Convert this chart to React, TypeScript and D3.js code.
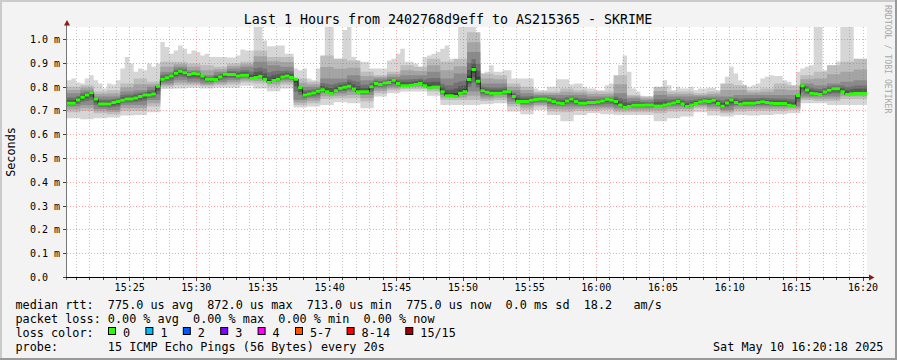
import React from 'react';
import * as d3 from 'd3';

// median rtt in ms, one value per 20 s step (15:20:18 .. 16:20:18)
const median = [
  0.732, 0.732, 0.746, 0.757, 0.767, 0.776, 0.750, 0.729, 0.729, 0.729, 0.735, 0.740, 0.745, 0.750, 0.750, 0.754, 0.760, 0.767,
  0.767, 0.771, 0.804, 0.833, 0.839, 0.847, 0.858, 0.867, 0.860, 0.853, 0.857, 0.855, 0.847, 0.833, 0.833, 0.832, 0.842, 0.854,
  0.853, 0.853, 0.847, 0.850, 0.850, 0.836, 0.840, 0.846, 0.833, 0.819, 0.828, 0.833, 0.842, 0.847, 0.840, 0.833, 0.797, 0.767,
  0.771, 0.775, 0.783, 0.789, 0.780, 0.774, 0.785, 0.795, 0.799, 0.804, 0.792, 0.780, 0.780, 0.780, 0.801, 0.815, 0.811, 0.817,
  0.819, 0.829, 0.815, 0.806, 0.806, 0.808, 0.811, 0.815, 0.806, 0.797, 0.800, 0.800, 0.780, 0.764, 0.764, 0.761, 0.774, 0.780,
  0.832, 0.874, 0.825, 0.785, 0.778, 0.774, 0.774, 0.774, 0.780, 0.780, 0.760, 0.740, 0.740, 0.740, 0.745, 0.748, 0.750, 0.750,
  0.746, 0.739, 0.733, 0.731, 0.742, 0.750, 0.739, 0.732, 0.732, 0.735, 0.735, 0.737, 0.742, 0.749, 0.746, 0.739, 0.725, 0.715,
  0.719, 0.724, 0.724, 0.724, 0.725, 0.725, 0.721, 0.721, 0.725, 0.729, 0.733, 0.739, 0.729, 0.718, 0.725, 0.731, 0.737, 0.742,
  0.740, 0.745, 0.731, 0.720, 0.733, 0.746, 0.735, 0.728, 0.732, 0.732, 0.732, 0.735, 0.738, 0.735, 0.732, 0.731, 0.731, 0.731,
  0.724, 0.721, 0.765, 0.806, 0.788, 0.774, 0.772, 0.769, 0.779, 0.787, 0.793, 0.793, 0.780, 0.769, 0.772, 0.774, 0.774, 0.774,
];

// slowest ping per 20 s step (top of the lightest smoke)
const smokeMax = [
  0.829, 0.836, 0.819, 0.815, 0.836, 0.850, 0.829, 0.815, 0.794, 0.815, 0.811, 0.829, 0.878, 0.926, 0.899, 0.864, 0.878, 0.871,
  0.899, 0.885, 0.899, 0.989, 0.968, 0.940, 0.954, 0.975, 0.961, 0.940, 0.954, 0.947, 0.933, 0.940, 0.926, 0.926, 0.926, 0.926,
  0.924, 0.924, 0.933, 0.958, 0.954, 0.954, 1.100, 1.100, 0.996, 0.972, 0.972, 0.975, 0.975, 0.940, 0.940, 0.878, 0.871, 0.878,
  0.836, 0.829, 0.878, 0.926, 1.100, 1.100, 0.919, 0.919, 1.040, 1.100, 0.926, 0.906, 0.906, 0.906, 0.878, 0.878, 0.878, 0.878,
  0.912, 0.919, 0.940, 0.961, 0.906, 0.906, 0.899, 0.885, 0.926, 0.933, 0.940, 0.947, 0.961, 0.975, 0.919, 0.912, 1.100, 1.100,
  1.100, 1.100, 0.892, 0.857, 0.864, 0.892, 0.864, 0.864, 0.871, 0.871, 0.836, 0.836, 0.836, 0.836, 0.836, 0.794, 0.787, 0.787,
  0.801, 0.801, 0.833, 0.833, 0.833, 0.811, 0.815, 0.815, 0.801, 0.794, 0.794, 0.787, 0.787, 0.808, 0.815, 0.836, 0.892, 0.933,
  0.864, 0.794, 0.781, 0.764, 0.760, 0.760, 0.760, 0.781, 0.829, 0.808, 0.787, 0.801, 0.794, 0.794, 0.801, 0.787, 0.794, 0.794,
  0.797, 0.797, 0.787, 0.767, 0.843, 0.885, 0.857, 0.829, 0.808, 0.801, 0.808, 0.815, 0.836, 0.843, 0.850, 0.847, 0.847, 0.829,
  0.822, 0.801, 0.864, 0.878, 0.885, 0.892, 1.100, 1.100, 0.871, 0.892, 0.892, 0.908, 1.100, 1.100, 1.100, 0.885, 0.906, 0.906,
];

// per minute smoke bands (ms)
const smokeMidHi = [
  0.801, 0.808, 0.781, 0.787, 0.815, 0.836, 0.822, 0.906, 0.906, 0.899, 0.892, 0.885,
  0.899, 0.906, 0.954, 0.926, 0.926, 0.836, 0.822, 0.933, 0.919, 0.912, 0.864, 0.850,
  0.864, 0.892, 0.885, 0.919, 0.906, 0.919, 1.030, 0.857, 0.850, 0.815, 0.801, 0.781,
  0.781, 0.794, 0.787, 0.781, 0.781, 0.850, 0.767, 0.760, 0.801, 0.781, 0.781, 0.774,
  0.781, 0.815, 0.808, 0.787, 0.794, 0.815, 0.808, 0.850, 0.864, 0.892, 0.906, 0.919,
];
const smokeInHi = [
  0.774, 0.787, 0.760, 0.760, 0.781, 0.787, 0.801, 0.864, 0.885, 0.871, 0.850, 0.864,
  0.878, 0.885, 0.906, 0.892, 0.885, 0.801, 0.801, 0.836, 0.836, 0.850, 0.829, 0.836,
  0.843, 0.850, 0.850, 0.864, 0.836, 0.857, 0.947, 0.815, 0.815, 0.787, 0.774, 0.767,
  0.767, 0.767, 0.767, 0.760, 0.760, 0.774, 0.753, 0.746, 0.767, 0.760, 0.760, 0.760,
  0.760, 0.760, 0.767, 0.767, 0.767, 0.767, 0.767, 0.815, 0.808, 0.815, 0.822, 0.829,
];
const smokeInLo = [
  0.718, 0.725, 0.708, 0.704, 0.725, 0.725, 0.746, 0.815, 0.829, 0.822, 0.815, 0.822,
  0.829, 0.836, 0.836, 0.822, 0.829, 0.746, 0.753, 0.774, 0.774, 0.781, 0.767, 0.794,
  0.801, 0.808, 0.808, 0.801, 0.767, 0.767, 0.781, 0.760, 0.767, 0.739, 0.725, 0.732,
  0.718, 0.718, 0.718, 0.718, 0.718, 0.711, 0.711, 0.711, 0.714, 0.718, 0.718, 0.725,
  0.718, 0.704, 0.718, 0.718, 0.718, 0.718, 0.718, 0.760, 0.760, 0.760, 0.774, 0.774,
];
const smokeMidLo = [
  0.694, 0.700, 0.690, 0.686, 0.700, 0.700, 0.718, 0.801, 0.808, 0.808, 0.804, 0.808,
  0.811, 0.819, 0.815, 0.801, 0.811, 0.725, 0.732, 0.750, 0.753, 0.753, 0.739, 0.774,
  0.787, 0.792, 0.792, 0.781, 0.746, 0.746, 0.746, 0.742, 0.746, 0.718, 0.704, 0.718,
  0.697, 0.694, 0.700, 0.700, 0.704, 0.694, 0.694, 0.694, 0.690, 0.697, 0.697, 0.711,
  0.700, 0.690, 0.697, 0.700, 0.700, 0.700, 0.704, 0.746, 0.742, 0.742, 0.750, 0.750,
];
const smokeMin = [
  0.669, 0.665, 0.669, 0.672, 0.681, 0.683, 0.694, 0.792, 0.794, 0.797, 0.794, 0.797,
  0.797, 0.806, 0.794, 0.783, 0.794, 0.714, 0.718, 0.725, 0.736, 0.732, 0.711, 0.760,
  0.774, 0.781, 0.781, 0.764, 0.725, 0.725, 0.725, 0.728, 0.732, 0.697, 0.686, 0.704,
  0.683, 0.656, 0.683, 0.690, 0.686, 0.683, 0.683, 0.683, 0.656, 0.669, 0.676, 0.694,
  0.681, 0.676, 0.683, 0.681, 0.683, 0.686, 0.690, 0.732, 0.732, 0.725, 0.725, 0.725,
];

const yTicks = [0, 0.1, 0.2, 0.3, 0.4, 0.5, 0.6, 0.7, 0.8, 0.9, 1.0];

const titleText = 'Last 1 Hours from 2402768d9eff to AS215365 - SKRIME';
const statLine = 'median rtt:  775.0 us avg  872.0 us max  713.0 us min  775.0 us now  0.0 ms sd  18.2   am/s';
const lossLine = 'packet loss: 0.00 % avg  0.00 % max  0.00 % min  0.00 % now';
const probeLine = 'probe:       15 ICMP Echo Pings (56 Bytes) every 20s';
const stampText = 'Sat May 10 16:20:18 2025';
const lossLabels = ['0', '1', '2', '3', '4', '5-7', '8-14', '15/15'];
const lossColors = ['#26ff00', '#00b8ff', '#0059ff', '#7e00ff', '#ff00ff', '#ff5500', '#ff0000', '#a10000'];
const smokeColors = ['#d6d6d6', '#bdbdbd', '#a4a4a4', '#8a8a8a', '#717171', '#585858', '#3e3e3e'];

const W = 897;
const H = 360;
const mono = '"DejaVu Sans Mono", monospace';
const CW = 7.1; // legend char advance

const start = new Date(2025, 4, 10, 15, 20, 18);
const end = new Date(2025, 4, 10, 16, 20, 18);

const Pre: React.FC<{ x: number; y: number; children: string }> = ({ x, y, children }) => (
  <text x={x} y={y} xmlSpace="preserve" style={{ whiteSpace: 'pre' }}
    fontFamily={mono} fontSize={11.8} fill="#000">{children}</text>
);

const App: React.FC = () => {
  const x = d3.scaleTime().domain([start, end]).range([67, 867]);
  const y = d3.scaleLinear().domain([0, 1.05]).range([277.5, 27.6]);
  const px = (v: number) => Math.round(v - 0.5) + 0.5;

  const n = median.length;
  const tAt = (i: number) => new Date(start.getTime() + i * 20000);
  const idx = d3.range(n + 1);
  const c = (i: number) => Math.min(i, n - 1);
  const k = (i: number) => Math.floor(c(i) / 3);

  const toward = (a: number, m: number, f: number) => m + (a - m) * f;
  const inLo = (i: number) => Math.min(smokeInLo[k(i)], median[c(i)]);
  const inHi = (i: number) => Math.max(smokeInHi[k(i)], median[c(i)]);
  const bands: [(i: number) => number, (i: number) => number][] = [
    [i => smokeMin[k(i)], i => smokeMax[c(i)]],
    [i => smokeMidLo[k(i)], i => smokeMidHi[k(i)]],
    [i => (smokeMidLo[k(i)] + smokeInLo[k(i)]) / 2, i => (smokeMidHi[k(i)] + smokeInHi[k(i)]) / 2],
    [i => smokeInLo[k(i)], i => smokeInHi[k(i)]],
    [i => toward(inLo(i), median[c(i)], 0.6), i => toward(inHi(i), median[c(i)], 0.6)],
    [i => toward(inLo(i), median[c(i)], 0.35), i => toward(inHi(i), median[c(i)], 0.35)],
    [i => toward(inLo(i), median[c(i)], 0.15), i => toward(inHi(i), median[c(i)], 0.15)],
  ];

  const areaGen = (lo: (i: number) => number, hi: (i: number) => number) =>
    d3.area<number>()
      .curve(d3.curveStepAfter)
      .x(i => x(tAt(i)))
      .y0(i => y(lo(i)))
      .y1(i => y(hi(i)))(idx) || '';

  const medLine = d3.line<number>()
    .curve(d3.curveStepAfter)
    .x(i => x(tAt(i)))
    .y(i => y(median[c(i)]))(idx) || '';

  const greenArea = d3.area<number>()
    .curve(d3.curveStepAfter)
    .x(i => x(tAt(i)))
    .y0(i => y(median[c(i)]) + 1.5)
    .y1(i => y(median[c(i)]) - 1.5)(idx) || '';

  const minutes = d3.timeMinute.range(start, end);
  const minorTicks = minutes.filter(d => d.getMinutes() % 5 !== 0);
  const majorTicks = minutes.filter(d => d.getMinutes() % 5 === 0);
  const fmt = d3.timeFormat('%H:%M');

  // loss colour swatches laid out like rrdtool legend items
  let cursor = 108;
  const swatches = lossLabels.map((label, i) => {
    const item = { label, color: lossColors[i], x: cursor };
    cursor += 15 + label.length * CW + 15.3;
    return item;
  });

  return (
    <svg width={W} height={H} style={{ display: 'block' }}>
      <style>{'body{margin:0}'}</style>
      <rect x={0} y={0} width={W} height={H} fill="#f3f3f3" />
      <rect x={0} y={0} width={W} height={2} fill="#cbcbcb" />
      <rect x={0} y={0} width={2} height={H} fill="#cbcbcb" />
      <rect x={0} y={H - 2} width={W} height={2} fill="#999999" />
      <rect x={W - 2} y={0} width={2} height={H} fill="#999999" />

      <text x={448} y={23.5} textAnchor="middle" fontFamily={mono} fontSize={13.3} fill="#000">
        {titleText}
      </text>

      <rect x={67} y={27} width={800} height={251} fill="#ffffff" />

      <defs>
        <clipPath id="plot">
          <rect x={67} y={27} width={800} height={251} />
        </clipPath>
      </defs>

      <g clipPath="url(#plot)">
        {bands.map(([lo, hi], j) => (
          <path key={j} d={areaGen(lo, hi)} fill={smokeColors[j]} />
        ))}
      </g>

      {minorTicks.map((d, i) => (
        <line key={'mn' + i} x1={px(x(d))} x2={px(x(d))} y1={27} y2={277}
          stroke="rgba(128,128,128,0.45)" strokeDasharray="1,2" />
      ))}
      {majorTicks.map((d, i) => (
        <line key={'mj' + i} x1={px(x(d))} x2={px(x(d))} y1={27} y2={277}
          stroke="rgba(255,80,80,0.5)" strokeDasharray="1,2" />
      ))}
      {yTicks.filter(v => v > 0).map((v, i) => (
        <line key={'hy' + i} x1={67} x2={867} y1={px(y(v))} y2={px(y(v))}
          stroke="rgba(255,80,80,0.5)" strokeDasharray="1,2" />
      ))}

      <g clipPath="url(#plot)">
        <path d={medLine} fill="none" stroke="#202020" strokeWidth={1} />
        <path d={greenArea} fill={lossColors[0]} />
      </g>

      {/* axes */}
      <line x1={66.5} x2={66.5} y1={280} y2={22} stroke="#777" />
      <line x1={63} x2={870} y1={277.5} y2={277.5} stroke="#000" />
      <polygon points="64,25.5 70,25.5 67,20" fill="#8f1a1a" />
      <polygon points="869,274.5 869,280.5 874.5,277.5" fill="#8f1a1a" />
      {minutes.map((d, i) => (
        <line key={'tk' + i} x1={px(x(d))} x2={px(x(d))} y1={278} y2={d.getMinutes() % 5 === 0 ? 281 : 280} stroke="#444" />
      ))}
      {yTicks.map((v, i) => (
        <line key={'yt' + i} x1={63} x2={66} y1={px(y(v))} y2={px(y(v))} stroke="#444" />
      ))}

      {yTicks.map((v, i) => (
        <text key={'yl' + i} x={30} y={px(y(v)) + 3.5} fontFamily={mono} fontSize={10} fill="#000">
          {v === 0 ? '0.0' : v.toFixed(1) + ' m'}
        </text>
      ))}
      {majorTicks.map((d, i) => (
        <text key={'xl' + i} x={x(d)} y={291} textAnchor="middle" fontFamily={mono} fontSize={10} fill="#000">
          {fmt(d)}
        </text>
      ))}

      <text transform="translate(15,152) rotate(-90)" textAnchor="middle" fontFamily={mono} fontSize={11.8} fill="#000">
        Seconds
      </text>
      <text transform="translate(885,5) rotate(90)" fontFamily={mono} fontSize={8.2} fill="#a8a8a8">
        RRDTOOL / TOBI OETIKER
      </text>

      <Pre x={15.5} y={308.5}>{statLine}</Pre>
      <Pre x={15.5} y={322.5}>{lossLine}</Pre>
      <Pre x={15.5} y={336.5}>loss color:</Pre>
      <Pre x={15.5} y={350.5}>{probeLine}</Pre>
      <Pre x={713} y={350.5}>{stampText}</Pre>
      {swatches.map((s, i) => (
        <g key={'sw' + i}>
          <rect x={s.x + 0.5} y={327.5} width={7} height={7} fill={s.color} stroke="#000" />
          <Pre x={s.x + 15} y={336.5}>{s.label}</Pre>
        </g>
      ))}
    </svg>
  );
};

export default App;
